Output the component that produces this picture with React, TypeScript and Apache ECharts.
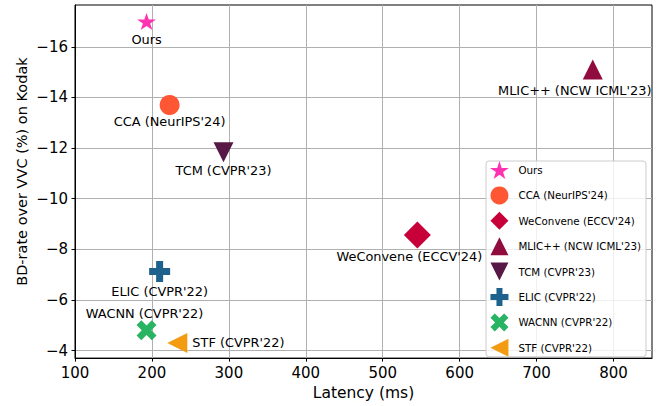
import React, { useEffect, useRef } from "react";
import * as echarts from "echarts";

const methods = [
  "Ours",
  "CCA (NeurIPS'24)",
  "WeConvene (ECCV'24)",
  "MLIC++ (NCW ICML'23)",
  "TCM (CVPR'23)",
  "ELIC (CVPR'22)",
  "WACNN (CVPR'22)",
  "STF (CVPR'22)",
];
const latencyMs = [193, 223, 545, 773, 293, 210, 193, 233];
const bdRate = [-17.0, -13.7, -8.56, -15.1, -11.83, -7.12, -4.8, -4.3];
const colors = ["#FF33B2", "#FF5733", "#C70039", "#900C3F", "#581845", "#1F618D", "#28B463", "#F39C12"];
const xTicks = [100, 200, 300, 400, 500, 600, 700, 800];
const yTicks = [-16, -14, -12, -10, -8, -6, -4];

const STAR =
  "path://M50 0 L61.23 34.55 L97.55 34.55 L68.17 55.9 L79.39 90.45 L50 69.1 L20.61 90.45 L31.83 55.9 L2.45 34.55 L38.77 34.55 Z";
const CIRCLE = "circle";
const DIAMOND = "path://M50 0 L100 50 L50 100 L0 50 Z";
const TRI_UP = "path://M50 0 L100 100 L0 100 Z";
const TRI_DOWN = "path://M0 0 L100 0 L50 100 Z";
const PLUS = "path://M33.3 0 H66.7 V33.3 H100 V66.7 H66.7 V100 H33.3 V66.7 H0 V33.3 H33.3 Z";
const XMARK =
  "path://M0 24 L24 0 L50 26 L76 0 L100 24 L74 50 L100 76 L76 100 L50 74 L24 100 L0 76 L26 50 Z";
const TRI_LEFT = "path://M0 50 L100 0 L100 100 Z";

const symbols = [STAR, CIRCLE, DIAMOND, TRI_UP, TRI_DOWN, PLUS, XMARK, TRI_LEFT];
const sizes: any[] = [[19, 18], 20, 27, 20, 20, 21, 20, 20];
const labelOffsets = [
  [0, 18],
  [0, 17],
  [-8, 21],
  [-18, 21],
  [0, 18],
  [0, 20],
  [-2, -17],
  [15, 0],
];
const labelAlign = ["center", "center", "center", "center", "center", "center", "center", "left"];

const FONT = "DejaVu Sans";

export default function App() {
  const ref = useRef<HTMLDivElement>(null);
  useEffect(() => {
    if (!ref.current) return;
    document.body.style.margin = "0";
    const chart = echarts.init(ref.current, undefined, { renderer: "svg" });
    const fmt = (v: number) => String(v).replace("-", "\u2212");
    const series = methods.map((m, i) => ({
      type: "scatter",
      name: m,
      data: [[latencyMs[i], bdRate[i]]],
      symbol: symbols[i],
      symbolSize: sizes[i],
      symbolKeepAspect: true,
      itemStyle: { color: colors[i], opacity: 1 },
      z: 3,
      label: {
        show: true,
        formatter: m,
        position: "inside",
        align: labelAlign[i],
        verticalAlign: "middle",
        offset: labelOffsets[i],
        color: "#000",
        fontFamily: FONT,
        fontSize: 12.9,
      },
      emphasis: { disabled: true },
    }));
    chart.setOption({
      animation: false,
      textStyle: { fontFamily: FONT },
      grid: {
        left: 75,
        right: 8,
        top: 5,
        bottom: 43,
        show: true,
        borderColor: "#000",
        borderWidth: 1,
        backgroundColor: "transparent",
      },
      legend: {
        orient: "vertical",
        left: 486,
        top: 161,
        data: methods,
        itemWidth: 20,
        itemHeight: 18,
        itemGap: 7.4,
        padding: [0, 5, 0, 4],
        backgroundColor: "rgba(255,255,255,0.8)",
        borderColor: "#cccccc",
        borderWidth: 1,
        borderRadius: 3,
        symbolKeepAspect: true,
        textStyle: { fontFamily: FONT, fontSize: 10.3, color: "#000", padding: [0, 0, 0, 4] },
      },
      xAxis: {
        type: "value",
        min: 100,
        max: 850,
        interval: 100,
        name: "Latency (ms)",
        nameLocation: "middle",
        nameGap: 22,
        nameTextStyle: { fontFamily: FONT, fontSize: 15.5, color: "#000" },
        axisLine: { show: true, onZero: false, lineStyle: { color: "#000", width: 1 } },
        axisTick: { show: true, length: 3.5, lineStyle: { color: "#000" }, customValues: xTicks },
        axisLabel: {
          fontFamily: FONT,
          fontSize: 15,
          color: "#000",
          margin: 7,
          customValues: xTicks,
        },
        splitLine: { show: true, lineStyle: { color: "#b0b0b0", width: 1 } },
      },
      yAxis: {
        type: "value",
        inverse: true,
        min: -17.65,
        max: -3.7,
        splitNumber: 7,
        name: "BD-rate over VVC (%) on Kodak",
        nameLocation: "middle",
        nameGap: 46,
        nameMoveOverlap: false,
        nameTextStyle: { fontFamily: FONT, fontSize: 14.5, color: "#000", padding: [0, 0, 0, 20] },
        axisLine: { show: true, onZero: false, lineStyle: { color: "#000", width: 1 } },
        axisTick: { show: true, length: 3.5, lineStyle: { color: "#000" }, customValues: yTicks },
        axisLabel: {
          fontFamily: FONT,
          fontSize: 15,
          color: "#000",
          margin: 7,
          customValues: yTicks,
          formatter: fmt,
        },
        splitLine: { show: true, lineStyle: { color: "#b0b0b0", width: 1 } },
      },
      series,
    });
    return () => chart.dispose();
  }, []);
  return <div ref={ref} style={{ width: 660, height: 406 }} />;
}
